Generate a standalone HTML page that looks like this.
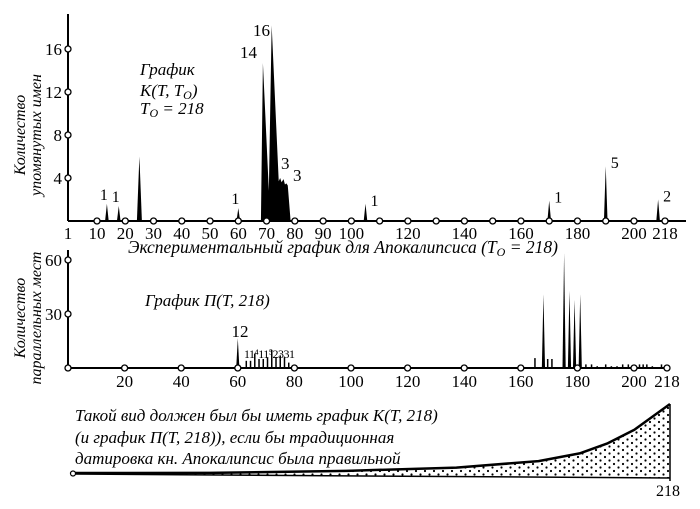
<!DOCTYPE html>
<html><head><meta charset="utf-8">
<style>
body{margin:0;background:#fff;}
svg{display:block;font-family:"Liberation Serif",serif;}
.it{font-style:italic;}
</style></head>
<body>
<svg id="c" width="700" height="509" viewBox="0 0 700 509" xmlns="http://www.w3.org/2000/svg">
<g id="gtop"></g>
<g id="gbot"></g>
<g id="gill"></g>
<text class="it" x="140" y="75" font-size="17">График</text>
<text class="it" x="140" y="96" font-size="17">K(T, T<tspan font-size="12" dy="3">O</tspan><tspan dy="-3">)</tspan></text>
<text class="it" x="140" y="114" font-size="17">T<tspan font-size="12" dy="3">O</tspan><tspan dy="-3"> = 218</tspan></text>
<text class="it" x="128" y="253" font-size="17.5">Экспериментальный график для Апокалипсиса (T<tspan font-size="12" dy="3">O</tspan><tspan dy="-3"> = 218)</tspan></text>
<text class="it" x="145" y="306" font-size="17">График П(T, 218)</text>
<text class="it" transform="translate(25,135) rotate(-90)" text-anchor="middle" font-size="16">Количество</text>
<text class="it" transform="translate(41,135) rotate(-90)" text-anchor="middle" font-size="16">упомянутых имен</text>
<text class="it" transform="translate(25,318) rotate(-90)" text-anchor="middle" font-size="16">Количество</text>
<text class="it" transform="translate(41,318) rotate(-90)" text-anchor="middle" font-size="16">параллельных мест</text>
<text class="it" x="75" y="421" font-size="17">Такой вид должен был бы иметь график K(T, 218)</text>
<text class="it" x="75" y="443" font-size="17">(и график П(T, 218)), если бы традиционная</text>
<text class="it" x="75" y="464" font-size="17">датировка кн. Апокалипсис была правильной</text>
<text x="668" y="496" text-anchor="middle" font-size="16">218</text>
</svg>
<script>
// ---- data ----
const kTicksY=[4,8,12,16];
const kTicksX=[10,20,30,40,50,60,70,80,90,100,110,120,130,140,150,160,170,180,190,200,218];
const kSpikeT=[13.5,17.7,25,60,105,170,190,214];
const kSpikeV=[1.6,1.4,6,1.2,1.6,1.9,5.1,2];
const kSpikeLbl=["1","1","","1","1","1","5","2"];
const kClusterT=[68,68.7,70.8,71.8,74.3,74.8,75.3,76,76.5,77,77.5,78.5];
const kClusterV=[0,14.7,2.8,18.2,3.7,4.0,3.6,3.9,3.4,3.5,3.3,0];
const pTicksY=[30,60];
const pTicksX=[20,40,60,80,100,120,140,160,180,200,218];
const pBarT=[60,63,64.5,66,67.5,69,70.5,72,73.5,75,76.5,78,165,168,169.5,171,175.3,177.2,179,181,183,185,187,190,192,194,196,198,201,203,205,207,210,215];
const pBarV=[16.5,4,4,8,5,5,6,10,6,7,6,3,5.5,41,5,5,64,43,38,41,2,2,1,2,1,1,2,2,1,2,2,2,1,2];
const pSpikeT=[60,168,175.3,177.2,179,181];
const curveT=[0,50,100,140,170,185,195,205,212,218];
const curveV=[1,2,5,9,16,24,34,48,62,74];
// ---- scales ----
function pw(dom,rng,v){for(let i=0;i<dom.length-1;i++){if(v<=dom[i+1]||i==dom.length-2){return rng[i]+(v-dom[i])/(dom[i+1]-dom[i])*(rng[i+1]-rng[i]);}}}
const kx=v=>pw([1,10,200,218],[68,97,634,665],v);
const ky=v=>221-v*10.75;
const px=v=>pw([0,200,218],[68,634,667],v);
const py=v=>368-v*1.8;
const NS="http://www.w3.org/2000/svg";
function mk(par,tag,at){const e=document.createElementNS(NS,tag);for(const k in at)e.setAttribute(k,at[k]);par.appendChild(e);return e;}
const gT=document.getElementById('gtop'),gB=document.getElementById('gbot'),gI=document.getElementById('gill');
let a=mk(gT,'line',{x1:68,y1:14,x2:68,y2:221,stroke:'#000','stroke-width':2});


a=mk(gT,'line',{x1:68,y1:221,x2:686,y2:221,stroke:'#000','stroke-width':2});


let pts=kClusterT.map((t,i)=>kx(t)+','+ky(kClusterV[i])).join(' ');
a=mk(gT,'polygon',{points:pts,fill:'#000'});


kSpikeT.forEach((t,i)=>{const w=t==25?2.5:1.8;
 const e=mk(gT,'polygon',{points:(kx(t)-w)+','+ky(0)+' '+kx(t)+','+ky(kSpikeV[i])+' '+(kx(t)+w)+','+ky(0),fill:'#000'});
 
 
 if(kSpikeLbl[i]){const l=mk(gT,'text',{x:kx(t)+(t>100?5:-3),y:ky(kSpikeV[i])-(t>100?-2:4),'font-size':16,'text-anchor':t>100?'start':'middle'});l.textContent=kSpikeLbl[i];
 
 }
});
[[14,240,58],[16,253,36],[3,281,169],[3,293,181]].forEach(d=>{const l=mk(gT,'text',{x:d[1],y:d[2],'font-size':17});l.textContent=d[0];
 
 });
kTicksY.forEach(v=>{const c=mk(gT,'circle',{cx:68,cy:ky(v),r:3,fill:'#fff',stroke:'#000','stroke-width':1.3});
 
 
 const l=mk(gT,'text',{x:62,y:ky(v)+6,'font-size':17,'text-anchor':'end'});l.textContent=v;
 
 });
kTicksX.forEach(v=>{const c=mk(gT,'circle',{cx:kx(v),cy:221,r:3,fill:'#fff',stroke:'#000','stroke-width':1.3});
 
 
 if(v%20==0||v<=100||v==218){const l=mk(gT,'text',{x:kx(v),y:239,'font-size':17,'text-anchor':'middle'});l.textContent=v;
 
 }});
a=mk(gT,'text',{x:68,y:239,'font-size':17,'text-anchor':'middle'});a.textContent='1';


// bottom
a=mk(gB,'line',{x1:68,y1:250,x2:68,y2:368,stroke:'#000','stroke-width':2});


a=mk(gB,'line',{x1:68,y1:368,x2:667,y2:368,stroke:'#000','stroke-width':2});


pBarT.forEach((t,i)=>{let e;
 if(pSpikeT.includes(t)){e=mk(gB,'polygon',{points:(px(t)-1.6)+','+py(0)+' '+px(t)+','+py(pBarV[i])+' '+(px(t)+1.6)+','+py(0),fill:'#000'});}
 else{e=mk(gB,'line',{x1:px(t),y1:py(0),x2:px(t),y2:py(pBarV[i]),stroke:'#000','stroke-width':1.5});}
 
 });
a=mk(gB,'text',{x:240,y:337,'font-size':17,'text-anchor':'middle'});a.textContent='12';


a=mk(gB,'text',{x:244,y:358,'font-size':12,'letter-spacing':'-0.5'});a.textContent='11⁴11⁵2331';


pTicksY.forEach(v=>{const c=mk(gB,'circle',{cx:68,cy:py(v),r:3,fill:'#fff',stroke:'#000','stroke-width':1.3});
 
 
 const l=mk(gB,'text',{x:62,y:py(v)+6,'font-size':17,'text-anchor':'end'});l.textContent=v;
 
 });
[0].concat(pTicksX).forEach(v=>{const c=mk(gB,'circle',{cx:px(v),cy:368,r:3,fill:'#fff',stroke:'#000','stroke-width':1.3});
 
 
 if(v>0){const l=mk(gB,'text',{x:px(v),y:387,'font-size':17,'text-anchor':'middle'});l.textContent=v;
 
 }});
// illustrative curve
const cx=v=>73+v*(670-73)/218, cbase=v=>474+v*4/218;
const defs=mk(gI,'defs',{});
const pat=mk(defs,'pattern',{id:'dots',width:9,height:7,patternUnits:'userSpaceOnUse'});
mk(pat,'circle',{cx:2,cy:2,r:1.1,fill:'#000'});mk(pat,'circle',{cx:6.5,cy:5.5,r:1.1,fill:'#000'});
let d='M'+cx(0)+','+cbase(0);
curveT.forEach((t,i)=>{d+=' L'+cx(t)+','+(cbase(t)-curveV[i]);});
d+=' L'+cx(218)+','+cbase(218)+' Z';
a=mk(gI,'path',{d:d,fill:'url(#dots)',stroke:'none'});


let d2='M'+cx(0)+','+(cbase(0)-curveV[0]);
curveT.forEach((t,i)=>{d2+=' L'+cx(t)+','+(cbase(t)-curveV[i]);});
a=mk(gI,'path',{d:d2,fill:'none',stroke:'#000','stroke-width':2.5,'stroke-linejoin':'round'});


a=mk(gI,'line',{x1:cx(0),y1:cbase(0),x2:cx(218),y2:cbase(218),stroke:'#000','stroke-width':1.5});


a=mk(gI,'line',{x1:cx(218),y1:cbase(218)-curveV[curveV.length-1],x2:cx(218),y2:cbase(218)+3,stroke:'#000','stroke-width':1.5});


a=mk(gI,'circle',{cx:cx(0),cy:cbase(0)-0.5,r:2.5,fill:'#fff',stroke:'#000','stroke-width':1.2});


</script>
</body></html>
